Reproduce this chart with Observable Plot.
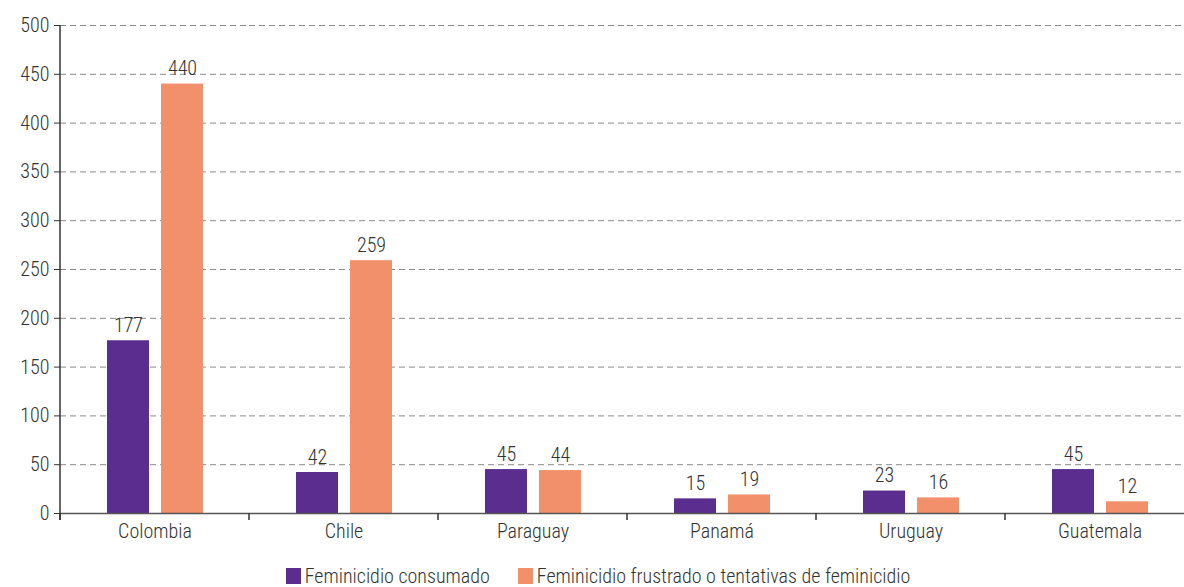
<!DOCTYPE html>
<html>
<head>
<meta charset="utf-8">
<script src="https://cdn.jsdelivr.net/npm/d3@7"></script>
<script src="https://cdn.jsdelivr.net/npm/@observablehq/plot@0.6"></script>
<style>
  html, body { margin: 0; padding: 0; background: #fff; overflow: hidden; width: 1184px; height: 587px; }
  body { font-family: "Roboto Condensed", "Liberation Sans Narrow", "Arial Narrow", "DejaVu Sans Condensed", Roboto, sans-serif; font-stretch: condensed; font-weight: 300; color: #333; }
  #chart svg { display: block; }
  #legend { height: 35px; box-sizing: border-box; padding-top: 12px; display: flex; justify-content: center; align-items: center; gap: 28px; font-size: 20px; font-weight: 300; color: #333; padding-left: 12px; }
  .item { display: flex; align-items: center; gap: 4px; }
  .sw { width: 15px; height: 16px; display: inline-block; }
</style>
</head>
<body>
<div id="chart"></div>
<div id="legend"></div>
<script>
const countries = ["Colombia", "Chile", "Paraguay", "Panamá", "Uruguay", "Guatemala"];
const series = ["Feminicidio consumado", "Feminicidio frustrado o tentativas de feminicidio"];
const consumado = [177, 42, 45, 15, 23, 45];
const frustrado = [440, 259, 44, 19, 16, 12];
const colors = ["#5a2d8f", "#f3906c"];
const yTicks = [0, 50, 100, 150, 200, 250, 300, 350, 400, 450, 500];

const rows = [];
countries.forEach((c, i) => {
  rows.push({country: c, series: series[0], value: consumado[i]});
  rows.push({country: c, series: series[1], value: frustrado[i]});
});

const font = getComputedStyle(document.body).fontFamily;

const plot = Plot.plot({
  width: 1200,
  height: 552,
  marginLeft: 60,
  marginRight: 6,
  marginTop: 25,
  marginBottom: 39,
  style: {fontFamily: font, fontSize: "20px", fontWeight: 300, color: "#333", maxWidth: "none", overflow: "visible"},
  fx: {domain: countries, padding: 0, label: null},
  x: {domain: series, paddingInner: 0.223, paddingOuter: 0.84, axis: null},
  y: {domain: [0, 500], label: null},
  color: {domain: series, range: colors},
  marks: [
    Plot.gridY(yTicks, {stroke: "#8a8a8a", strokeOpacity: 1, strokeDasharray: "6,4", strokeWidth: 1}),
    Plot.axisY(yTicks, {tickSize: 6, tickPadding: 5, stroke: "#333", label: null, fontSize: 20}),
    Plot.barY(rows, {fx: "country", x: "series", y: "value", fill: "series"}),
    Plot.ruleY([0], {stroke: "#555", strokeWidth: 1.5}),
    Plot.text(rows, {fx: "country", x: "series", y: "value", text: d => String(d.value), lineAnchor: "bottom", dy: -9, fill: "#333", fontSize: 20}),
    Plot.axisFx({anchor: "bottom", tickSize: 0, tickPadding: 10, label: null, fontSize: 20})
  ]
});
document.getElementById("chart").appendChild(plot);

// boundary tick marks and left axis line, positioned via the plot's own scales
const fx = plot.scale("fx");
const y = plot.scale("y");
const svg = d3.select(plot);
const y0 = y.apply(0);
const bounds = countries.map(c => fx.apply(c)).concat([fx.apply(countries[countries.length - 1]) + fx.step]);
const g = svg.append("g").attr("stroke", "#333").attr("stroke-width", 1.5);
bounds.forEach(b => g.append("line").attr("x1", b).attr("x2", b).attr("y1", y0).attr("y2", y0 + 7));
g.append("line").attr("x1", bounds[0]).attr("x2", bounds[0]).attr("y1", y.apply(500)).attr("y2", y0 + 7);

// legend
const legend = d3.select("#legend");
series.forEach((s, i) => {
  const it = legend.append("div").attr("class", "item");
  it.append("span").attr("class", "sw").style("background", colors[i]);
  it.append("span").text(s);
});
</script>
</body>
</html>
